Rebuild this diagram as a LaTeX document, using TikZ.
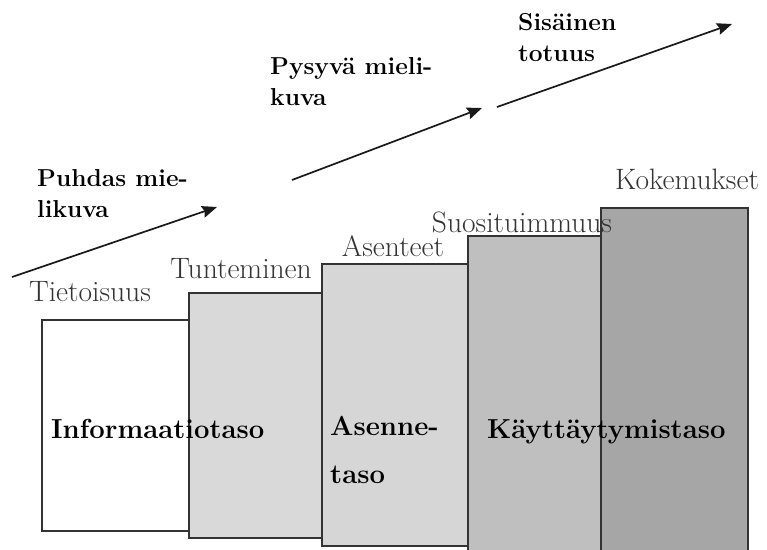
\documentclass[tikz,border=0pt]{standalone}
\usepackage[table]{xcolor}
\definecolor{harmaa}{HTML}{D9D9D9}
\definecolor{harmaa2}{HTML}{D6D6D6}
\definecolor{harmaa3}{HTML}{BFBFBF}
\definecolor{harmaa4}{HTML}{A6A6A6}
\definecolor{reuna}{HTML}{333333}
\def\maureuna{reuna}
\usepackage{tikz}
\usetikzlibrary{calc,positioning,arrows.meta}

\begin{document}
\begin{tikzpicture}[x=1pt,y=-1pt]
		\tikzstyle{tasostyle} = [draw=\maureuna,line width=1.6pt,anchor=north west,inner sep=0pt,minimum width=147pt]
		\tikzstyle{linestyle} = [->,>={Stealth[length=15pt,width=12pt,inset=2pt]},line width=1.7pt,black!90]
		\tikzstyle{vaihestyle} = [font=\fontsize{29.5}{30}\selectfont,anchor=base,inner sep=0pt,text=black!80]
		\tikzstyle{tasonimi} = [font=\fontsize{27.5}{48}\bfseries\selectfont,anchor=base west,inner sep=0pt,align=left]
		\tikzstyle{kuvastyle} = [font=\fontsize{24.5}{31}\bfseries\selectfont,anchor=base west,inner sep=0pt,align=left]
		\useasboundingbox (0,0) rectangle (767,549);
		\clip (0,0) rectangle (767,549);
		\node[tasostyle,fill=white,minimum height=211pt] (info) at (41,319) {};
		\node[tasostyle,fill=harmaa,minimum width=133pt,minimum height=245pt] (tunt) at (188,292) {};
		\node[tasostyle,fill=harmaa2,minimum width=146pt,minimum height=282pt] (asen) at (321,263) {};
		\node[tasostyle,fill=harmaa3,minimum width=133pt,minimum height=340pt] (suos) at (467,235) {};
		\node[tasostyle,fill=harmaa4,minimum width=147pt,minimum height=370pt] (koke) at (600,207) {};
		\node[vaihestyle] (tietoisuus) at (90,301) {Tietoisuus};
		\node[vaihestyle] (tunteminen) at (241,278) {Tunteminen};
		\node[vaihestyle] (asenteet) at (393,256) {Asenteet};
		\node[vaihestyle] (suosituimmuus) at (522,232) {Suosituimmuus};
		\node[vaihestyle] (kokemukset) at (687,189) {Kokemukset};
		\node[tasonimi] (informaatio) at (51,438) {Informaatiotaso};
		\node[tasonimi] (asenne) at (330,483) {Asenne-\\taso};
		\node[tasonimi] (kaytto) at (487,438) {Käyttäytymistaso};
		\node[kuvastyle] (puhdas) at (37,217) {Puhdas mie-\\likuva};
		\node[kuvastyle] (pysyva) at (270,105) {Pysyvä mieli-\\kuva};
		\node[kuvastyle] (sisainen) at (518,61) {Sisäinen\\totuus};
		\coordinate (a1) at (12,277);
		\coordinate (b1) at (217,207);
		\coordinate (a2) at (292,180);
		\coordinate (b2) at (482,108);
		\coordinate (a3) at (497,107);
		\coordinate (b3) at (732,24);
		\draw[linestyle] (a1) -- (b1);
		\draw[linestyle] (a2) -- (b2);
		\draw[linestyle] (a3) -- (b3);
\end{tikzpicture}
\end{document}
